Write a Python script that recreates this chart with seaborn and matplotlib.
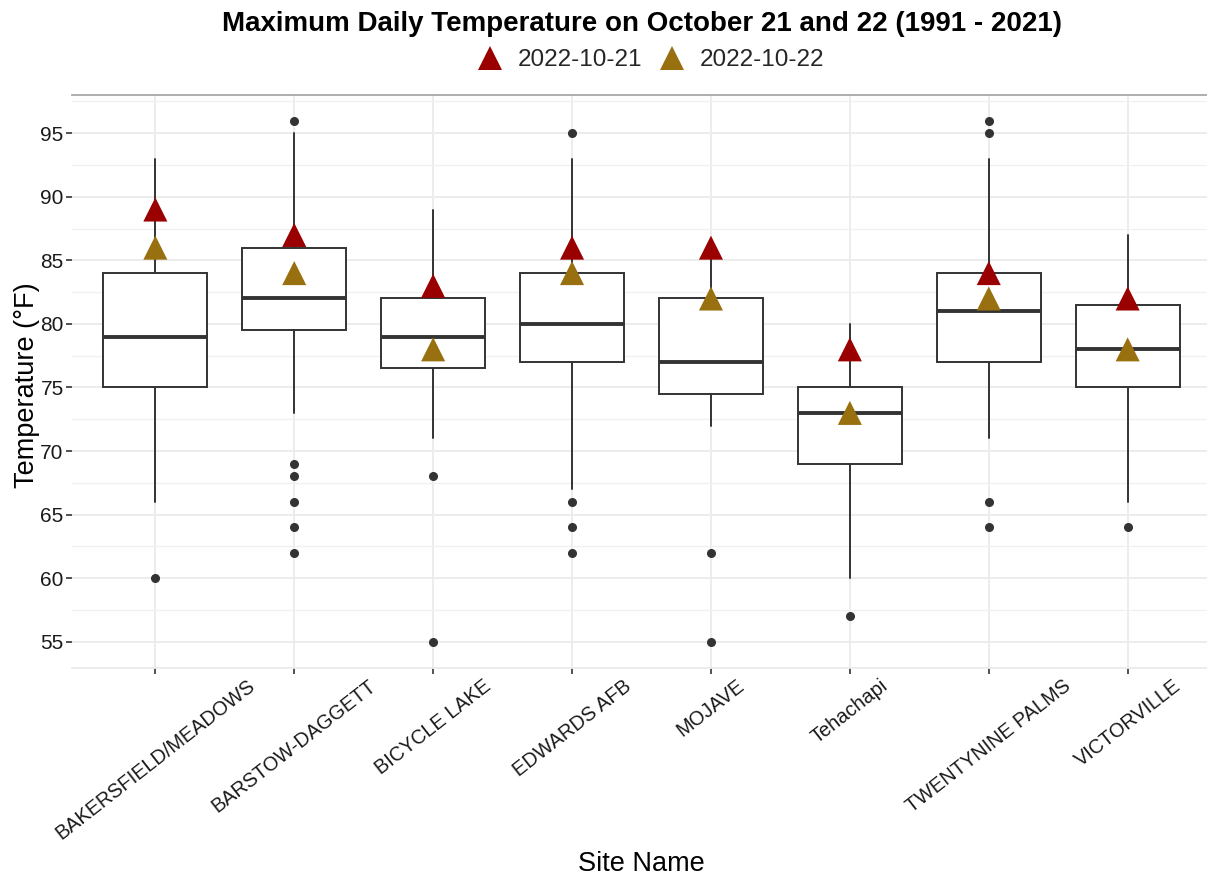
import matplotlib
matplotlib.use("Agg")
import matplotlib.pyplot as plt
from matplotlib.lines import Line2D
from matplotlib.ticker import MultipleLocator
import numpy as np
import pandas as pd
import seaborn as sns

# Site names along the x axis
sites = ["BAKERSFIELD/MEADOWS", "BARSTOW-DAGGETT", "BICYCLE LAKE", "EDWARDS AFB",
         "MOJAVE", "Tehachapi", "TWENTYNINE PALMS", "VICTORVILLE"]

# Box-plot summaries of daily maxima (1991-2021), degrees F
q1 = [75, 79.5, 76.5, 77, 74.5, 69, 77, 75]
median = [79, 82, 79, 80, 77, 73, 81, 78]
q3 = [84, 86, 82, 84, 82, 75, 84, 81.5]
whisker_low = [66, 73, 71, 67, 72, 60, 71, 66]
whisker_high = [93, 95, 89, 93, 86, 80, 93, 87]
outliers = [[60], [96, 69, 68, 66, 64, 62], [68, 55], [95, 66, 64, 62],
            [62, 55], [57], [96, 95, 66, 64], [64]]

# 2022 observations
dates = ["2022-10-21", "2022-10-22"]
obs_oct21 = [89, 87, 83, 86, 86, 78, 84, 82]
obs_oct22 = [86, 84, 78, 84, 82, 73, 82, 78]
date_colors = ["#9b0000", "#98700f"]

sns.set_theme(style="whitegrid")
plt.rcParams["font.family"] = ["Liberation Sans", "DejaVu Sans"]

W, H = 1207, 882
fig = plt.figure(figsize=(W / 100, H / 100), dpi=100)
fig.patch.set_facecolor("white")

px_left, px_right, px_top, px_bottom = 72, 1211, 95, 668
ax = fig.add_axes([px_left / W, 1 - px_bottom / H,
                   (px_right - px_left) / W, (px_bottom - px_top) / H])
ax.set_facecolor("white")

stats = []
for i in range(len(sites)):
    stats.append(dict(label=sites[i], q1=q1[i], med=median[i], q3=q3[i],
                      whislo=whisker_low[i], whishi=whisker_high[i],
                      fliers=outliers[i]))

line_c = "#333333"
ax.bxp(stats, positions=np.arange(len(sites)), widths=0.75, patch_artist=True,
       showcaps=False,
       boxprops=dict(facecolor="white", edgecolor=line_c, linewidth=1.4),
       medianprops=dict(color=line_c, linewidth=2.8, solid_capstyle="butt"),
       whiskerprops=dict(color=line_c, linewidth=1.4),
       flierprops=dict(marker="o", markerfacecolor=line_c, markeredgecolor=line_c,
                       markersize=5.5),
       zorder=3)

obs = pd.DataFrame({
    "pos": np.tile(np.arange(len(sites)), 2),
    "temp": obs_oct21 + obs_oct22,
    "date": np.repeat(dates, len(sites)),
})
sns.scatterplot(data=obs, x="pos", y="temp", hue="date", hue_order=dates,
                palette=date_colors, marker="^", s=300, linewidth=0,
                legend=False, ax=ax, zorder=5)

ax.set_xlim(-0.6, len(sites) - 0.4)
ax.set_ylim(52.93, 98.01)
ax.set_xticks(np.arange(len(sites)))
ax.set_xticklabels(sites, rotation=38, ha="center", va="top")
ax.yaxis.set_major_locator(MultipleLocator(5))
ax.yaxis.set_minor_locator(MultipleLocator(2.5))
ax.set_yticks(np.arange(55, 96, 5))

ax.grid(True, which="major", color="#ebebeb", linewidth=1.3)
ax.grid(True, which="minor", axis="y", color="#f0f0f0", linewidth=0.9)
ax.set_axisbelow(True)

for side in ("left", "right"):
    ax.spines[side].set_visible(False)
ax.spines["top"].set_color("#a8a8a8")
ax.spines["top"].set_linewidth(1.3)
ax.spines["bottom"].set_color("#ebebeb")
ax.spines["bottom"].set_linewidth(1.3)

ax.tick_params(axis="both", which="major", length=4, width=1.2, color=line_c,
               labelcolor="#1a1a1a", labelsize=15, pad=2, direction="out",
               bottom=True, left=True)
ax.tick_params(axis="y", which="minor", length=0)
ax.tick_params(axis="x", labelsize=14.3)

ax.set_xlabel("")
ax.set_ylabel("")

cx = (px_left + px_right) / 2 / W
fig.text(cx, 1 - 24 / H, "Maximum Daily Temperature on October 21 and 22 (1991 - 2021)",
         ha="center", va="center", fontsize=20, fontweight="bold", color="black")
fig.text(27 / W, 1 - 385 / H, "Temperature (°F)", rotation=90, ha="center",
         va="center", fontsize=19.5, color="black")
fig.text(cx, 1 - 864 / H, "Site Name", ha="center", va="center",
         fontsize=19.5, color="black")

handles = [Line2D([0], [0], marker="^", linestyle="none", markersize=17,
                  markerfacecolor=c, markeredgewidth=0) for c in date_colors]
fig.legend(handles, dates, loc="center", bbox_to_anchor=(650 / W, 1 - 60 / H),
           ncol=2, frameon=False, fontsize=17.5, handletextpad=0.55,
           columnspacing=0.6, handlelength=1.2)

fig.savefig("out.png", dpi=100, facecolor="white")
